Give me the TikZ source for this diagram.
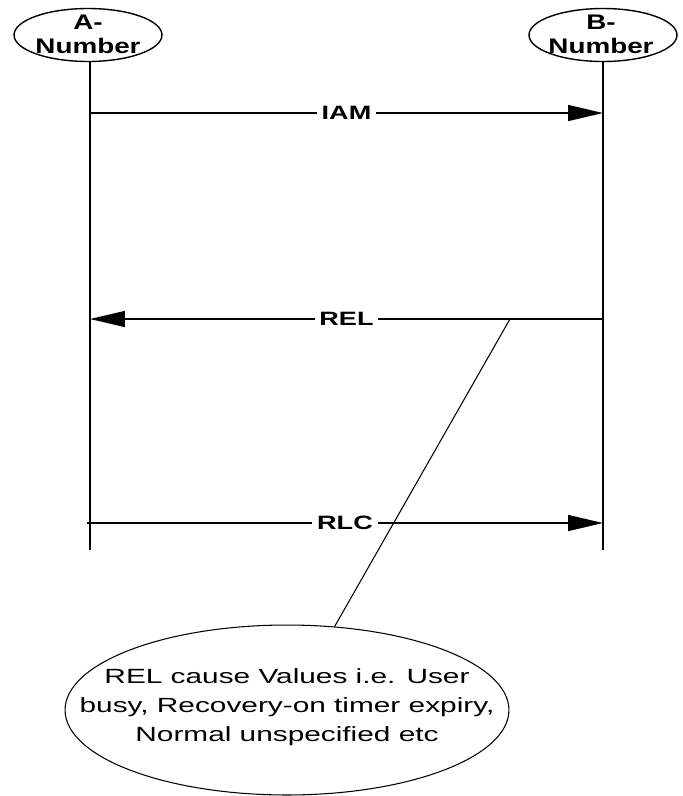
\documentclass[tikz,border=0pt]{standalone}
\usepackage{fontspec}
\setmainfont{Liberation Sans}
\usetikzlibrary{arrows.meta, shapes.geometric}

\begin{document}
\begin{tikzpicture}[x=0.02cm, y=-0.02cm,
  party/.style={draw, ellipse, line width=0.8pt, minimum width=2.96cm, minimum height=1.06cm, inner sep=0pt},
  partytext/.style={font=\fontsize{12}{13.7}\selectfont\bfseries, align=center, xscale=1.32, inner sep=0pt},
  lifeline/.style={line width=1.2pt},
  msg/.style={line width=0.8pt, -{Triangle[length=0.7cm, width=0.32cm]}},
  msglabel/.style={fill=white, font=\fontsize{11}{13}\selectfont\bfseries, xscale=1.4, inner xsep=2pt, inner ysep=1pt}
]
  \useasboundingbox (0,0) rectangle (683,796);

  % Parties and lifelines
  \node[party] (A) at (88,35) {};
  \node[partytext] (Atxt) at (88,34) {A-\\Number};
  \node[party] (B) at (603,35) {};
  \node[partytext] (Btxt) at (601,34) {B-\\Number};
  \coordinate (Aend) at (90,550);
  \coordinate (Bend) at (603,550);
  \draw[lifeline] (Aend |- A.south) -- (Aend);
  \draw[lifeline] (Bend |- B.south) -- (Bend);

  % Messages
  \coordinate (iamA) at (90,113);
  \coordinate (iamB) at (603,113);
  \draw[msg] (iamA) -- node[msglabel] (iam) {IAM} (iamB);
  \coordinate (relA) at (90,319);
  \coordinate (relB) at (603,319);
  \draw[msg] (relB) -- node[msglabel] (rel) {REL} (relA);
  \coordinate (rlcA) at (87,523);
  \coordinate (rlcB) at (603,523);
  \draw[msg] (rlcA) -- node[msglabel] (rlc) {RLC} (rlcB);

  % Note on the REL cause
  \node[draw, ellipse, line width=0.6pt, minimum width=8.88cm, minimum height=3.4cm, inner sep=0pt] (note) at (287,710) {};
  \node[font=\fontsize{11.7}{16.5}\selectfont, align=center, xscale=1.45] (notetxt) at (287,707)
    {REL cause Values i.e. User\\busy, Recovery-on timer expiry,\\Normal unspecified etc};
  \coordinate (relpt) at (510,319);
  \draw[line width=0.6pt] (relpt) -- (note);
\end{tikzpicture}
\end{document}
